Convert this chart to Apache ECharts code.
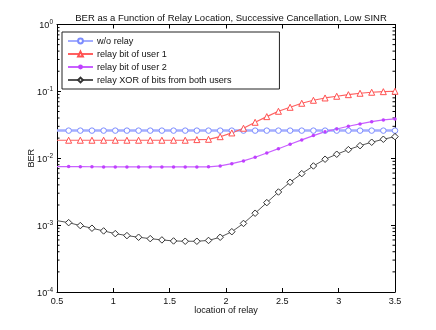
<!DOCTYPE html>
<html>
<head>
<meta charset="utf-8">
<script src="https://cdn.jsdelivr.net/npm/echarts@6/dist/echarts.min.js"></script>
<style>html,body{margin:0;padding:0;background:#fff}#c{width:436px;height:330px}</style>
</head>
<body>
<div id="c"></div>
<script>
var xLoc = [0.5, 0.6034, 0.7069, 0.8103, 0.9138, 1.0172, 1.1207, 1.2241, 1.3276, 1.4310,
  1.5345, 1.6379, 1.7414, 1.8448, 1.9483, 2.0517, 2.1552, 2.2586, 2.3621, 2.4655,
  2.5690, 2.6724, 2.7759, 2.8793, 2.9828, 3.0862, 3.1897, 3.2931, 3.3966, 3.5];
var berNoRelay = [0.0259,0.0259,0.0259,0.0259,0.0259,0.0259,0.0259,0.0259,0.0259,0.0259,
  0.0259,0.0259,0.0259,0.0259,0.0259,0.0259,0.0259,0.0259,0.0259,0.0259,
  0.0259,0.0259,0.0259,0.0259,0.0259,0.0259,0.0259,0.0259,0.0259,0.0259];
var berUser1 = [0.0186,0.0186,0.0186,0.0186,0.0186,0.0186,0.0186,0.0186,0.0186,0.0186,
  0.0186,0.0186,0.0190,0.0192,0.0210,0.0239,0.0281,0.0345,0.0419,0.0504,
  0.0578,0.0664,0.0736,0.0797,0.0845,0.0893,0.0937,0.0970,0.0990,0.1004];
var berUser2 = [0.00750,0.00750,0.00748,0.00746,0.00743,0.00742,0.00742,0.00742,0.00742,0.00742,
  0.00742,0.00742,0.00742,0.00745,0.00767,0.00830,0.00912,0.01035,0.0120,0.0139,
  0.0162,0.0188,0.0218,0.0250,0.0274,0.0301,0.0326,0.0352,0.0374,0.0387];
var berXor = [0.001167,0.001089,0.000984,0.000899,0.000819,0.000746,0.000697,0.000659,0.000628,0.000601,
  0.000580,0.000574,0.000574,0.000590,0.000659,0.000797,0.001060,0.001506,0.002170,0.00313,
  0.00438,0.00589,0.00767,0.00967,0.01148,0.01345,0.01543,0.01735,0.01923,0.02104];
var seriesNames = ['w/o relay','relay bit of user 1','relay bit of user 2','relay XOR of bits from both users'];
var minorTickValues = [];
[1e-4,1e-3,1e-2,1e-1].forEach(function(d){ for (var k=2;k<=9;k++) minorTickValues.push(+(d*k).toPrecision(3)); });

function pts(arr){
  return arr.map(function(v,i){
    var item = {value:[xLoc[i], v]};
    if (i === 0) item.symbol = 'none';
    return item;
  });
}
var chart = echarts.init(document.getElementById('c'));
var FONT = 'Liberation Sans, Arial, sans-serif';
var FS = 9.1;
var option = {
  backgroundColor: '#fff',
  animation: false,
  textStyle: {fontFamily: FONT},
  title: {
    text: 'BER as a Function of Relay Location, Successive Cancellation, Low SINR',
    left: 226, top: 8, textAlign: 'center',
    textStyle: {fontSize: 9.5, fontWeight: 'normal', color: '#111', fontFamily: FONT}
  },
  grid: {left: 57, right: 41, top: 24.5, bottom: 38},
  legend: {
    data: seriesNames,
    orient: 'vertical',
    left: 62, top: 32,
    padding: [3, 48, 3, 5],
    itemGap: 1,
    itemWidth: 25, itemHeight: 6,
    borderColor: '#222', borderWidth: 1, backgroundColor: '#fff',
    textStyle: {fontSize: FS, color: '#111', fontFamily: FONT, lineHeight: 12, padding: [0,0,0,-1]}
  },
  xAxis: [{
    type: 'value', min: 0.5, max: 3.5, interval: 0.5, position: 'bottom',
    name: 'location of relay', nameLocation: 'middle', nameGap: 14, nameMoveOverlap: false,
    nameTextStyle: {fontSize: FS, color: '#111', fontFamily: FONT, verticalAlign: 'top'},
    axisLine: {lineStyle: {color: '#000', width: 1}},
    axisTick: {inside: true, length: 4, lineStyle: {color: '#000'}},
    axisLabel: {fontSize: FS, color: '#111', margin: 5, fontFamily: FONT},
    splitLine: {show: false}
  }, {
    type: 'value', min: 0.5, max: 3.5, interval: 0.5, position: 'top',
    axisLine: {show: true, lineStyle: {color: '#000', width: 1}},
    axisTick: {inside: true, length: 4, lineStyle: {color: '#000'}},
    axisLabel: {show: false}, splitLine: {show: false}
  }],
  yAxis: [{
    type: 'log', logBase: 10, min: 1e-4, max: 1, position: 'left',
    name: 'BER', nameLocation: 'middle', nameGap: 21, nameRotate: 90, nameMoveOverlap: false,
    nameTextStyle: {fontSize: FS, color: '#111', fontFamily: FONT},
    axisLine: {show: true, lineStyle: {color: '#000', width: 1}},
    axisTick: {inside: true, length: 4, lineStyle: {color: '#000'}},
    axisLabel: {
      margin: 4,
      formatter: function(v){ return '{b|10}{e|' + Math.round(Math.log10(v)) + '}'; },
      rich: {
        b: {fontSize: FS, color: '#111', fontFamily: FONT, lineHeight: 11, verticalAlign: 'bottom'},
        e: {fontSize: 6.5, color: '#111', fontFamily: FONT, lineHeight: 6.5, verticalAlign: 'top'}
      }
    },
    splitLine: {show: false}
  }, {
    type: 'log', logBase: 10, min: 1e-4, max: 1, position: 'right',
    axisLine: {show: true, lineStyle: {color: '#000', width: 1}},
    axisTick: {inside: true, length: 4, lineStyle: {color: '#000'}},
    axisLabel: {show: false}, splitLine: {show: false}
  }],
  series: [{
    name: seriesNames[0], type: 'line', data: pts(berNoRelay),
    symbol: 'circle', symbolSize: 5.5, showAllSymbol: true,
    itemStyle: {color: '#fff', borderColor: '#7c8cff', borderWidth: 1},
    lineStyle: {color: '#a3adff', width: 2.5},
    color: '#7c8cff'
  }, {
    name: seriesNames[1], type: 'line', data: pts(berUser1),
    symbol: 'triangle', symbolSize: 6, showAllSymbol: true,
    itemStyle: {color: '#fff', borderColor: '#ff5050', borderWidth: 1},
    lineStyle: {color: '#ff6060', width: 1.2},
    color: '#ff5050'
  }, {
    name: seriesNames[2], type: 'line', data: pts(berUser2),
    symbol: 'circle', symbolSize: 3.5, showAllSymbol: true,
    itemStyle: {color: '#c040ff', borderColor: '#c040ff', borderWidth: 0},
    lineStyle: {color: '#c860ff', width: 1.2},
    color: '#c040ff'
  }, {
    name: seriesNames[3], type: 'line', data: pts(berXor),
    symbol: 'diamond', symbolSize: 6.5, showAllSymbol: true,
    itemStyle: {color: '#fff', borderColor: '#333', borderWidth: 1},
    lineStyle: {color: '#555', width: 1},
    color: '#333'
  }, {
    type: 'custom', name: 'minorTicks', silent: true, clip: false,
    data: minorTickValues.map(function(v){ return [0.5, v]; }),
    renderItem: function(params, api){
      var l = api.coord([0.5, api.value(1)]);
      var r = api.coord([3.5, api.value(1)]);
      return {type: 'group', children: [
        {type: 'line', shape: {x1: l[0], y1: l[1], x2: l[0] + 2.5, y2: l[1]}, style: {stroke: '#000', lineWidth: 1}},
        {type: 'line', shape: {x1: r[0], y1: r[1], x2: r[0] - 2.5, y2: r[1]}, style: {stroke: '#000', lineWidth: 1}}
      ]};
    }
  }]
};
chart.setOption(option);
</script>
</body>
</html>
